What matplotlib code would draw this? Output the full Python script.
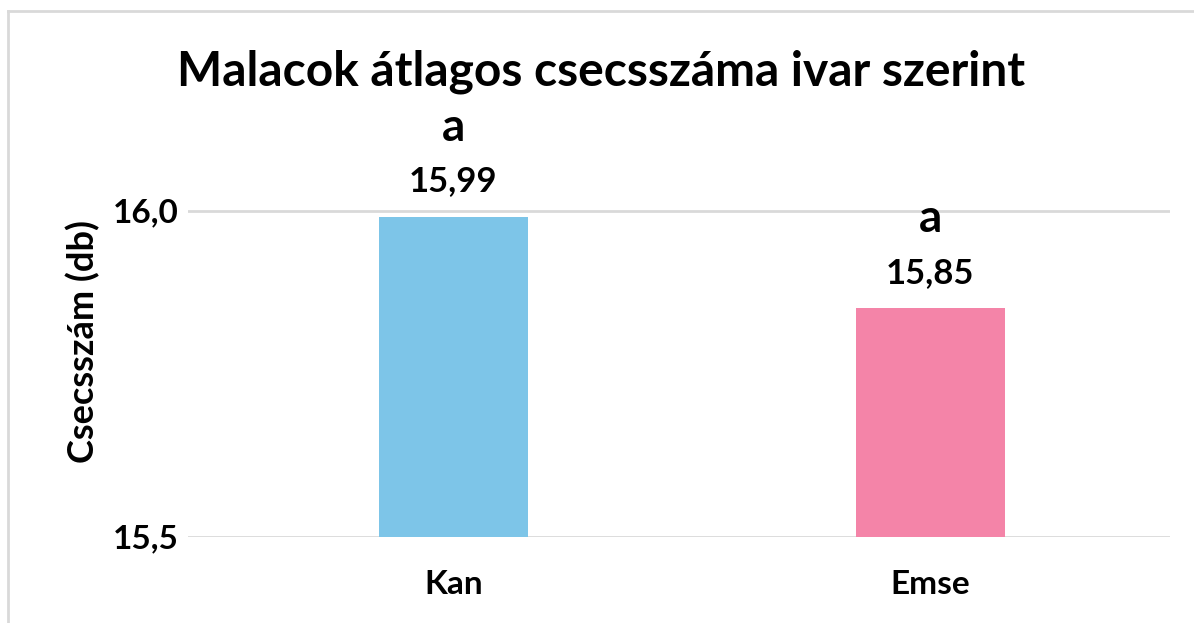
import matplotlib.pyplot as plt
from matplotlib.lines import Line2D

# adatok
categories = ["Kan", "Emse"]
values = [15.99, 15.85]
value_labels = ["15,99", "15,85"]
letters = ["a", "a"]
bar_colors = ["#7DC5E8", "#F484A8"]
y_ticks = [15.5, 16.0]
y_tick_labels = ["15,5", "16,0"]

plt.rcParams["font.family"] = ["Lato", "DejaVu Sans"]

fig = plt.figure(figsize=(11.94, 6.23), dpi=100)
ax = fig.add_axes([0.1575, 0.1385, 0.8225, 0.628])

x = list(range(len(categories)))
bars = ax.bar(x, values, width=0.312, color=bar_colors, zorder=2)

ax.set_ylim(15.5, 16.1)
ax.set_xlim(-0.556, 1.503)
ax.set_yticks(y_ticks)
ax.set_yticklabels(y_tick_labels)
ax.set_xticks(x)
ax.set_xticklabels(categories)
ax.tick_params(length=0, labelsize=24)
ax.tick_params(axis="x", pad=24)
ax.tick_params(axis="y", pad=7)
for lbl in ax.get_xticklabels() + ax.get_yticklabels():
    lbl.set_fontweight("bold")

for y in y_ticks:
    ax.axhline(y, color="#D9D9D9", linewidth=2, zorder=1)
for s in ax.spines.values():
    s.set_visible(False)

for b, v, lab, let in zip(bars, values, value_labels, letters):
    cx = b.get_x() + b.get_width() / 2
    ax.annotate(lab, (cx, v), xytext=(0, 18.5), textcoords="offset points",
                ha="center", va="baseline", fontsize=25, fontweight="bold",
                annotation_clip=False)
    ax.annotate(let, (cx, v), xytext=(0, 55), textcoords="offset points",
                ha="center", va="baseline", fontsize=33, fontweight="bold",
                annotation_clip=False)

ax.set_ylabel("Csecsszám (db)", fontsize=26, fontweight="bold", labelpad=9)
fig.text(0.503, 0.885, "Malacok átlagos csecsszáma ivar szerint",
         ha="center", va="center", fontsize=34.5, fontweight="bold")

# keret (bal és felső)
fig.add_artist(Line2D([8 / 1194, 8 / 1194], [0, 1 - 11 / 623],
                      transform=fig.transFigure, color="#D9D9D9", linewidth=2))
fig.add_artist(Line2D([8 / 1194, 1], [1 - 11 / 623, 1 - 11 / 623],
                      transform=fig.transFigure, color="#D9D9D9", linewidth=2))

fig.savefig("out.png", dpi=100)
